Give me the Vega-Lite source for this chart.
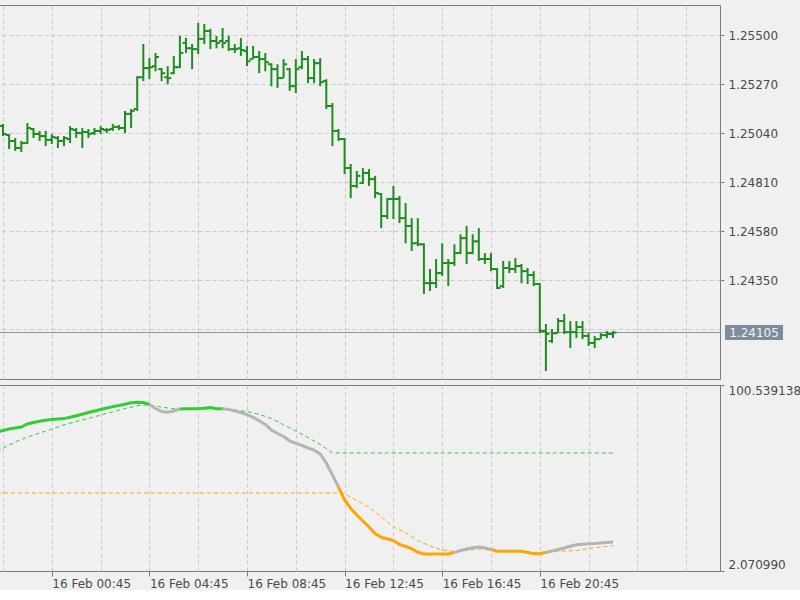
{
"$schema": "https://vega.github.io/schema/vega-lite/v6.json",
"background": "#f0f0f0",
"padding": {"left": -3, "top": 4, "right": 0, "bottom": 0},
"spacing": 3,
"config": {
  "view": {"stroke": "#7a7a7a", "strokeWidth": 1, "fill": "#f0f0f0"},
  "axis": {"labelFont": "DejaVu Sans", "labelFontSize": 12, "labelColor": "#4a4a4a", "gridColor": "#c8c8c8", "gridDash": [4, 3], "gridWidth": 1, "tickColor": "#7a7a7a", "domainColor": "#7a7a7a", "title": null}
},
"datasets": {
  "bars": [
    {"t":"2017-02-15T22:45","o":1.25074,"h":1.25084,"l":1.25027,"c":1.25037},
    {"t":"2017-02-15T23:00","o":1.25032,"h":1.25037,"l":1.24966,"c":1.25004},
    {"t":"2017-02-15T23:15","o":1.25004,"h":1.25018,"l":1.24957,"c":1.24971},
    {"t":"2017-02-15T23:30","o":1.24971,"h":1.25004,"l":1.24952,"c":1.24994},
    {"t":"2017-02-15T23:45","o":1.24994,"h":1.25088,"l":1.24990,"c":1.25065},
    {"t":"2017-02-16T00:00","o":1.25060,"h":1.25065,"l":1.25018,"c":1.25037},
    {"t":"2017-02-16T00:15","o":1.25037,"h":1.25051,"l":1.25004,"c":1.25027},
    {"t":"2017-02-16T00:30","o":1.25027,"h":1.25051,"l":1.24980,"c":1.25009},
    {"t":"2017-02-16T00:45","o":1.25009,"h":1.25037,"l":1.24990,"c":1.25023},
    {"t":"2017-02-16T01:00","o":1.25018,"h":1.25027,"l":1.24971,"c":1.25004},
    {"t":"2017-02-16T01:15","o":1.25004,"h":1.25027,"l":1.24980,"c":1.25018},
    {"t":"2017-02-16T01:30","o":1.25013,"h":1.25074,"l":1.24994,"c":1.25060},
    {"t":"2017-02-16T01:45","o":1.25055,"h":1.25065,"l":1.25018,"c":1.25041},
    {"t":"2017-02-16T02:00","o":1.25041,"h":1.25065,"l":1.24971,"c":1.25046},
    {"t":"2017-02-16T02:15","o":1.25046,"h":1.25060,"l":1.25018,"c":1.25037},
    {"t":"2017-02-16T02:30","o":1.25041,"h":1.25065,"l":1.25032,"c":1.25051},
    {"t":"2017-02-16T02:45","o":1.25051,"h":1.25074,"l":1.25037,"c":1.25060},
    {"t":"2017-02-16T03:00","o":1.25055,"h":1.25065,"l":1.25041,"c":1.25055},
    {"t":"2017-02-16T03:15","o":1.25060,"h":1.25084,"l":1.25051,"c":1.25070},
    {"t":"2017-02-16T03:30","o":1.25070,"h":1.25079,"l":1.25055,"c":1.25065},
    {"t":"2017-02-16T03:45","o":1.25065,"h":1.25145,"l":1.25041,"c":1.25131},
    {"t":"2017-02-16T04:00","o":1.25131,"h":1.25154,"l":1.25065,"c":1.25145},
    {"t":"2017-02-16T04:15","o":1.25154,"h":1.25308,"l":1.25145,"c":1.25303},
    {"t":"2017-02-16T04:30","o":1.25303,"h":1.25459,"l":1.25285,"c":1.25346},
    {"t":"2017-02-16T04:45","o":1.25346,"h":1.25393,"l":1.25294,"c":1.25350},
    {"t":"2017-02-16T05:00","o":1.25355,"h":1.25417,"l":1.25331,"c":1.25398},
    {"t":"2017-02-16T05:15","o":1.25341,"h":1.25346,"l":1.25285,"c":1.25322},
    {"t":"2017-02-16T05:30","o":1.25303,"h":1.25355,"l":1.25270,"c":1.25299},
    {"t":"2017-02-16T05:45","o":1.25322,"h":1.25403,"l":1.25317,"c":1.25350},
    {"t":"2017-02-16T06:00","o":1.25350,"h":1.25497,"l":1.25346,"c":1.25417},
    {"t":"2017-02-16T06:15","o":1.25464,"h":1.25487,"l":1.25417,"c":1.25439},
    {"t":"2017-02-16T06:30","o":1.25439,"h":1.25459,"l":1.25341,"c":1.25435},
    {"t":"2017-02-16T06:45","o":1.25435,"h":1.25558,"l":1.25412,"c":1.25483},
    {"t":"2017-02-16T07:00","o":1.25483,"h":1.25553,"l":1.25459,"c":1.25520},
    {"t":"2017-02-16T07:15","o":1.25520,"h":1.25530,"l":1.25435,"c":1.25473},
    {"t":"2017-02-16T07:30","o":1.25473,"h":1.25497,"l":1.25439,"c":1.25464},
    {"t":"2017-02-16T07:45","o":1.25473,"h":1.25534,"l":1.25439,"c":1.25464},
    {"t":"2017-02-16T08:00","o":1.25473,"h":1.25497,"l":1.25426,"c":1.25435},
    {"t":"2017-02-16T08:15","o":1.25435,"h":1.25459,"l":1.25417,"c":1.25435},
    {"t":"2017-02-16T08:30","o":1.25439,"h":1.25487,"l":1.25403,"c":1.25431},
    {"t":"2017-02-16T08:45","o":1.25426,"h":1.25450,"l":1.25355,"c":1.25378},
    {"t":"2017-02-16T09:00","o":1.25388,"h":1.25450,"l":1.25388,"c":1.25398},
    {"t":"2017-02-16T09:15","o":1.25398,"h":1.25426,"l":1.25322,"c":1.25388},
    {"t":"2017-02-16T09:30","o":1.25388,"h":1.25417,"l":1.25331,"c":1.25374},
    {"t":"2017-02-16T09:45","o":1.25364,"h":1.25369,"l":1.25261,"c":1.25341},
    {"t":"2017-02-16T10:00","o":1.25341,"h":1.25364,"l":1.25253,"c":1.25299},
    {"t":"2017-02-16T10:15","o":1.25299,"h":1.25388,"l":1.25299,"c":1.25364},
    {"t":"2017-02-16T10:30","o":1.25341,"h":1.25346,"l":1.25239,"c":1.25261},
    {"t":"2017-02-16T10:45","o":1.25261,"h":1.25388,"l":1.25229,"c":1.25341},
    {"t":"2017-02-16T11:00","o":1.25350,"h":1.25426,"l":1.25341,"c":1.25388},
    {"t":"2017-02-16T11:15","o":1.25388,"h":1.25403,"l":1.25275,"c":1.25299},
    {"t":"2017-02-16T11:30","o":1.25299,"h":1.25388,"l":1.25275,"c":1.25369},
    {"t":"2017-02-16T11:45","o":1.25369,"h":1.25393,"l":1.25261,"c":1.25280},
    {"t":"2017-02-16T12:00","o":1.25285,"h":1.25294,"l":1.25154,"c":1.25168},
    {"t":"2017-02-16T12:15","o":1.25168,"h":1.25182,"l":1.24980,"c":1.25051},
    {"t":"2017-02-16T12:30","o":1.25051,"h":1.25060,"l":1.25004,"c":1.25013},
    {"t":"2017-02-16T12:45","o":1.25013,"h":1.25018,"l":1.24849,"c":1.24877},
    {"t":"2017-02-16T13:00","o":1.24877,"h":1.24896,"l":1.24736,"c":1.24793},
    {"t":"2017-02-16T13:15","o":1.24793,"h":1.24863,"l":1.24783,"c":1.24840},
    {"t":"2017-02-16T13:30","o":1.24807,"h":1.24877,"l":1.24802,"c":1.24854},
    {"t":"2017-02-16T13:45","o":1.24854,"h":1.24872,"l":1.24793,"c":1.24825},
    {"t":"2017-02-16T14:00","o":1.24825,"h":1.24840,"l":1.24736,"c":1.24760},
    {"t":"2017-02-16T14:15","o":1.24755,"h":1.24760,"l":1.24595,"c":1.24652},
    {"t":"2017-02-16T14:30","o":1.24652,"h":1.24736,"l":1.24638,"c":1.24732},
    {"t":"2017-02-16T14:45","o":1.24732,"h":1.24793,"l":1.24638,"c":1.24732},
    {"t":"2017-02-16T15:00","o":1.24732,"h":1.24746,"l":1.24619,"c":1.24642},
    {"t":"2017-02-16T15:15","o":1.24642,"h":1.24713,"l":1.24524,"c":1.24605},
    {"t":"2017-02-16T15:30","o":1.24605,"h":1.24642,"l":1.24488,"c":1.24524},
    {"t":"2017-02-16T15:45","o":1.24524,"h":1.24642,"l":1.24510,"c":1.24519},
    {"t":"2017-02-16T16:00","o":1.24519,"h":1.24524,"l":1.24286,"c":1.24337},
    {"t":"2017-02-16T16:15","o":1.24337,"h":1.24403,"l":1.24300,"c":1.24337},
    {"t":"2017-02-16T16:30","o":1.24337,"h":1.24450,"l":1.24314,"c":1.24384},
    {"t":"2017-02-16T16:45","o":1.24384,"h":1.24524,"l":1.24370,"c":1.24431},
    {"t":"2017-02-16T17:00","o":1.24431,"h":1.24450,"l":1.24323,"c":1.24431},
    {"t":"2017-02-16T17:15","o":1.24431,"h":1.24519,"l":1.24417,"c":1.24478},
    {"t":"2017-02-16T17:30","o":1.24478,"h":1.24566,"l":1.24473,"c":1.24548},
    {"t":"2017-02-16T17:45","o":1.24548,"h":1.24605,"l":1.24427,"c":1.24478},
    {"t":"2017-02-16T18:00","o":1.24478,"h":1.24566,"l":1.24473,"c":1.24533},
    {"t":"2017-02-16T18:15","o":1.24533,"h":1.24595,"l":1.24441,"c":1.24450},
    {"t":"2017-02-16T18:30","o":1.24450,"h":1.24478,"l":1.24427,"c":1.24450},
    {"t":"2017-02-16T18:45","o":1.24450,"h":1.24478,"l":1.24393,"c":1.24403},
    {"t":"2017-02-16T19:00","o":1.24403,"h":1.24408,"l":1.24309,"c":1.24314},
    {"t":"2017-02-16T19:15","o":1.24323,"h":1.24441,"l":1.24314,"c":1.24408},
    {"t":"2017-02-16T19:30","o":1.24408,"h":1.24441,"l":1.24384,"c":1.24403},
    {"t":"2017-02-16T19:45","o":1.24403,"h":1.24455,"l":1.24384,"c":1.24417},
    {"t":"2017-02-16T20:00","o":1.24417,"h":1.24427,"l":1.24337,"c":1.24393},
    {"t":"2017-02-16T20:15","o":1.24393,"h":1.24408,"l":1.24333,"c":1.24375},
    {"t":"2017-02-16T20:30","o":1.24375,"h":1.24393,"l":1.24323,"c":1.24333},
    {"t":"2017-02-16T20:45","o":1.24333,"h":1.24337,"l":1.24102,"c":1.24112},
    {"t":"2017-02-16T21:00","o":1.24112,"h":1.24145,"l":1.23924,"c":1.24098},
    {"t":"2017-02-16T21:15","o":1.24065,"h":1.24121,"l":1.24056,"c":1.24102},
    {"t":"2017-02-16T21:30","o":1.24102,"h":1.24173,"l":1.24102,"c":1.24159},
    {"t":"2017-02-16T21:45","o":1.24159,"h":1.24192,"l":1.24098,"c":1.24107},
    {"t":"2017-02-16T22:00","o":1.24107,"h":1.24159,"l":1.24032,"c":1.24107},
    {"t":"2017-02-16T22:15","o":1.24107,"h":1.24159,"l":1.24079,"c":1.24131},
    {"t":"2017-02-16T22:30","o":1.24131,"h":1.24159,"l":1.24074,"c":1.24089},
    {"t":"2017-02-16T22:45","o":1.24089,"h":1.24102,"l":1.24042,"c":1.24056},
    {"t":"2017-02-16T23:00","o":1.24056,"h":1.24089,"l":1.24032,"c":1.24074},
    {"t":"2017-02-16T23:15","o":1.24074,"h":1.24102,"l":1.24074,"c":1.24093},
    {"t":"2017-02-16T23:30","o":1.24093,"h":1.24112,"l":1.24079,"c":1.24098},
    {"t":"2017-02-16T23:45","o":1.24098,"h":1.24112,"l":1.24079,"c":1.24105}
  ],
  "last": [{"p": 1.24105}],
  "main": [
    {"t":"2017-02-15T22:30","v":75.66,"s":1,"c":"up"},
    {"t":"2017-02-15T22:45","v":76.45,"s":1,"c":"up"},
    {"t":"2017-02-15T23:00","v":77.25,"s":1,"c":"up"},
    {"t":"2017-02-15T23:15","v":77.78,"s":1,"c":"up"},
    {"t":"2017-02-15T23:30","v":78.31,"s":1,"c":"up"},
    {"t":"2017-02-15T23:45","v":79.89,"s":1,"c":"up"},
    {"t":"2017-02-16T00:00","v":80.69,"s":1,"c":"up"},
    {"t":"2017-02-16T00:15","v":81.32,"s":1,"c":"up"},
    {"t":"2017-02-16T00:30","v":81.85,"s":1,"c":"up"},
    {"t":"2017-02-16T00:45","v":82.28,"s":1,"c":"up"},
    {"t":"2017-02-16T01:00","v":82.54,"s":1,"c":"up"},
    {"t":"2017-02-16T01:15","v":82.75,"s":1,"c":"up"},
    {"t":"2017-02-16T01:30","v":83.44,"s":1,"c":"up"},
    {"t":"2017-02-16T01:45","v":84.29,"s":1,"c":"up"},
    {"t":"2017-02-16T02:00","v":85.08,"s":1,"c":"up"},
    {"t":"2017-02-16T02:15","v":85.98,"s":1,"c":"up"},
    {"t":"2017-02-16T02:30","v":86.78,"s":1,"c":"up"},
    {"t":"2017-02-16T02:45","v":87.57,"s":1,"c":"up"},
    {"t":"2017-02-16T03:00","v":88.36,"s":1,"c":"up"},
    {"t":"2017-02-16T03:15","v":89.10,"s":1,"c":"up"},
    {"t":"2017-02-16T03:30","v":89.69,"s":1,"c":"up"},
    {"t":"2017-02-16T03:45","v":90.38,"s":1,"c":"up"},
    {"t":"2017-02-16T04:00","v":91.12,"s":1,"c":"up"},
    {"t":"2017-02-16T04:15","v":91.38,"s":1,"c":"up"},
    {"t":"2017-02-16T04:30","v":91.22,"s":1,"c":"up"},
    {"t":"2017-02-16T04:45","v":90.22,"s":1,"c":"up"},
    {"t":"2017-02-16T04:45","v":90.22,"s":2,"c":"flat"},
    {"t":"2017-02-16T05:00","v":88.10,"s":2,"c":"flat"},
    {"t":"2017-02-16T05:15","v":86.51,"s":2,"c":"flat"},
    {"t":"2017-02-16T05:30","v":86.09,"s":2,"c":"flat"},
    {"t":"2017-02-16T05:45","v":86.78,"s":2,"c":"flat"},
    {"t":"2017-02-16T06:00","v":87.83,"s":2,"c":"flat"},
    {"t":"2017-02-16T06:00","v":87.83,"s":3,"c":"up"},
    {"t":"2017-02-16T06:15","v":87.99,"s":3,"c":"up"},
    {"t":"2017-02-16T06:30","v":87.99,"s":3,"c":"up"},
    {"t":"2017-02-16T06:45","v":87.99,"s":3,"c":"up"},
    {"t":"2017-02-16T07:00","v":88.26,"s":3,"c":"up"},
    {"t":"2017-02-16T07:15","v":88.58,"s":3,"c":"up"},
    {"t":"2017-02-16T07:30","v":87.99,"s":3,"c":"up"},
    {"t":"2017-02-16T07:45","v":87.94,"s":3,"c":"up"},
    {"t":"2017-02-16T07:45","v":87.94,"s":4,"c":"flat"},
    {"t":"2017-02-16T08:00","v":87.62,"s":4,"c":"flat"},
    {"t":"2017-02-16T08:15","v":86.78,"s":4,"c":"flat"},
    {"t":"2017-02-16T08:30","v":85.98,"s":4,"c":"flat"},
    {"t":"2017-02-16T08:45","v":84.82,"s":4,"c":"flat"},
    {"t":"2017-02-16T09:00","v":83.44,"s":4,"c":"flat"},
    {"t":"2017-02-16T09:15","v":81.64,"s":4,"c":"flat"},
    {"t":"2017-02-16T09:30","v":79.63,"s":4,"c":"flat"},
    {"t":"2017-02-16T09:45","v":76.72,"s":4,"c":"flat"},
    {"t":"2017-02-16T10:00","v":74.86,"s":4,"c":"flat"},
    {"t":"2017-02-16T10:15","v":73.28,"s":4,"c":"flat"},
    {"t":"2017-02-16T10:30","v":70.89,"s":4,"c":"flat"},
    {"t":"2017-02-16T10:45","v":69.68,"s":4,"c":"flat"},
    {"t":"2017-02-16T11:00","v":68.62,"s":4,"c":"flat"},
    {"t":"2017-02-16T11:15","v":67.19,"s":4,"c":"flat"},
    {"t":"2017-02-16T11:30","v":66.13,"s":4,"c":"flat"},
    {"t":"2017-02-16T11:45","v":64.01,"s":4,"c":"flat"},
    {"t":"2017-02-16T12:00","v":59.25,"s":4,"c":"flat"},
    {"t":"2017-02-16T12:15","v":52.89,"s":4,"c":"flat"},
    {"t":"2017-02-16T12:30","v":46.54,"s":4,"c":"flat"},
    {"t":"2017-02-16T12:30","v":46.54,"s":5,"c":"down"},
    {"t":"2017-02-16T12:45","v":39.66,"s":5,"c":"down"},
    {"t":"2017-02-16T13:00","v":35.16,"s":5,"c":"down"},
    {"t":"2017-02-16T13:15","v":31.72,"s":5,"c":"down"},
    {"t":"2017-02-16T13:30","v":28.54,"s":5,"c":"down"},
    {"t":"2017-02-16T13:45","v":25.37,"s":5,"c":"down"},
    {"t":"2017-02-16T14:00","v":21.92,"s":5,"c":"down"},
    {"t":"2017-02-16T14:15","v":19.91,"s":5,"c":"down"},
    {"t":"2017-02-16T14:30","v":19.12,"s":5,"c":"down"},
    {"t":"2017-02-16T14:45","v":18.22,"s":5,"c":"down"},
    {"t":"2017-02-16T15:00","v":16.10,"s":5,"c":"down"},
    {"t":"2017-02-16T15:15","v":15.04,"s":5,"c":"down"},
    {"t":"2017-02-16T15:30","v":13.88,"s":5,"c":"down"},
    {"t":"2017-02-16T15:45","v":11.97,"s":5,"c":"down"},
    {"t":"2017-02-16T16:00","v":11.07,"s":5,"c":"down"},
    {"t":"2017-02-16T16:15","v":11.07,"s":5,"c":"down"},
    {"t":"2017-02-16T16:30","v":11.07,"s":5,"c":"down"},
    {"t":"2017-02-16T16:45","v":11.07,"s":5,"c":"down"},
    {"t":"2017-02-16T17:00","v":11.07,"s":5,"c":"down"},
    {"t":"2017-02-16T17:15","v":11.86,"s":5,"c":"down"},
    {"t":"2017-02-16T17:15","v":11.86,"s":6,"c":"flat"},
    {"t":"2017-02-16T17:30","v":12.93,"s":6,"c":"flat"},
    {"t":"2017-02-16T17:45","v":13.72,"s":6,"c":"flat"},
    {"t":"2017-02-16T18:00","v":14.35,"s":6,"c":"flat"},
    {"t":"2017-02-16T18:15","v":14.78,"s":6,"c":"flat"},
    {"t":"2017-02-16T18:30","v":14.25,"s":6,"c":"flat"},
    {"t":"2017-02-16T18:45","v":13.45,"s":6,"c":"flat"},
    {"t":"2017-02-16T18:45","v":13.45,"s":7,"c":"down"},
    {"t":"2017-02-16T19:00","v":12.50,"s":7,"c":"down"},
    {"t":"2017-02-16T19:15","v":12.50,"s":7,"c":"down"},
    {"t":"2017-02-16T19:30","v":12.50,"s":7,"c":"down"},
    {"t":"2017-02-16T19:45","v":12.50,"s":7,"c":"down"},
    {"t":"2017-02-16T20:00","v":12.50,"s":7,"c":"down"},
    {"t":"2017-02-16T20:15","v":11.86,"s":7,"c":"down"},
    {"t":"2017-02-16T20:30","v":11.23,"s":7,"c":"down"},
    {"t":"2017-02-16T20:45","v":11.23,"s":7,"c":"down"},
    {"t":"2017-02-16T21:00","v":11.86,"s":7,"c":"down"},
    {"t":"2017-02-16T21:00","v":11.86,"s":8,"c":"flat"},
    {"t":"2017-02-16T21:15","v":12.66,"s":8,"c":"flat"},
    {"t":"2017-02-16T21:30","v":13.45,"s":8,"c":"flat"},
    {"t":"2017-02-16T21:45","v":14.25,"s":8,"c":"flat"},
    {"t":"2017-02-16T22:00","v":15.15,"s":8,"c":"flat"},
    {"t":"2017-02-16T22:15","v":15.94,"s":8,"c":"flat"},
    {"t":"2017-02-16T22:30","v":16.26,"s":8,"c":"flat"},
    {"t":"2017-02-16T22:45","v":16.52,"s":8,"c":"flat"},
    {"t":"2017-02-16T23:00","v":16.63,"s":8,"c":"flat"},
    {"t":"2017-02-16T23:15","v":16.89,"s":8,"c":"flat"},
    {"t":"2017-02-16T23:30","v":17.16,"s":8,"c":"flat"},
    {"t":"2017-02-16T23:45","v":17.42,"s":8,"c":"flat"}
  ],
  "hi": [
    {"t":"2017-02-15T22:30","v":65.60},
    {"t":"2017-02-15T22:45","v":67.08},
    {"t":"2017-02-15T23:15","v":70.36},
    {"t":"2017-02-15T23:45","v":73.01},
    {"t":"2017-02-16T00:15","v":75.13},
    {"t":"2017-02-16T00:45","v":77.14},
    {"t":"2017-02-16T01:15","v":79.47},
    {"t":"2017-02-16T01:45","v":81.22},
    {"t":"2017-02-16T02:15","v":82.81},
    {"t":"2017-02-16T02:45","v":84.61},
    {"t":"2017-02-16T03:15","v":86.35},
    {"t":"2017-02-16T03:45","v":88.10},
    {"t":"2017-02-16T04:15","v":89.53},
    {"t":"2017-02-16T04:30","v":89.95},
    {"t":"2017-02-16T04:45","v":90.06},
    {"t":"2017-02-16T05:15","v":88.79},
    {"t":"2017-02-16T05:45","v":87.99},
    {"t":"2017-02-16T07:45","v":87.94},
    {"t":"2017-02-16T08:15","v":87.30},
    {"t":"2017-02-16T08:45","v":86.51},
    {"t":"2017-02-16T09:15","v":85.03},
    {"t":"2017-02-16T09:45","v":82.81},
    {"t":"2017-02-16T10:15","v":79.47},
    {"t":"2017-02-16T10:45","v":76.19},
    {"t":"2017-02-16T11:15","v":72.75},
    {"t":"2017-02-16T11:45","v":69.04},
    {"t":"2017-02-16T12:15","v":64.54},
    {"t":"2017-02-16T23:45","v":64.54}
  ],
  "lo": [
    {"t":"2017-02-15T22:30","v":43.36},
    {"t":"2017-02-16T12:30","v":43.36},
    {"t":"2017-02-16T12:45","v":42.84},
    {"t":"2017-02-16T13:15","v":39.39},
    {"t":"2017-02-16T13:45","v":35.95},
    {"t":"2017-02-16T14:15","v":30.66},
    {"t":"2017-02-16T14:45","v":25.37},
    {"t":"2017-02-16T15:15","v":22.19},
    {"t":"2017-02-16T15:45","v":18.22},
    {"t":"2017-02-16T16:15","v":15.31},
    {"t":"2017-02-16T16:45","v":13.19},
    {"t":"2017-02-16T17:15","v":12.39},
    {"t":"2017-02-16T17:45","v":12.92},
    {"t":"2017-02-16T18:15","v":13.72},
    {"t":"2017-02-16T18:45","v":13.19},
    {"t":"2017-02-16T19:45","v":12.50},
    {"t":"2017-02-16T20:45","v":11.86},
    {"t":"2017-02-16T21:15","v":12.39},
    {"t":"2017-02-16T22:15","v":12.92},
    {"t":"2017-02-16T22:45","v":13.98},
    {"t":"2017-02-16T23:45","v":15.57}
  ]
},
"vconcat": [
  {
    "width": 722,
    "height": 374,
    "layer": [
      {
        "data": {"name": "last"},
        "mark": {"type": "rule", "color": "#8796a6", "strokeWidth": 1},
        "encoding": {"y": {"field": "p", "type": "quantitative"}}
      },
      {
        "data": {"name": "bars"},
        "mark": {"type": "rule", "color": "#1e8c1e", "strokeWidth": 2, "clip": true},
        "encoding": {
          "x": {"field": "t", "type": "temporal",
            "scale": {"domain": [{"year":2017,"month":2,"date":15,"hours":22,"minutes":32,"seconds":42},{"year":2017,"month":2,"date":17,"hours":4,"minutes":8,"seconds":6}]},
            "axis": {"values": [
              {"year":2017,"month":2,"date":15,"hours":22,"minutes":45},
              {"year":2017,"month":2,"date":16,"hours":0,"minutes":45},
              {"year":2017,"month":2,"date":16,"hours":2,"minutes":45},
              {"year":2017,"month":2,"date":16,"hours":4,"minutes":45},
              {"year":2017,"month":2,"date":16,"hours":6,"minutes":45},
              {"year":2017,"month":2,"date":16,"hours":8,"minutes":45},
              {"year":2017,"month":2,"date":16,"hours":10,"minutes":45},
              {"year":2017,"month":2,"date":16,"hours":12,"minutes":45},
              {"year":2017,"month":2,"date":16,"hours":14,"minutes":45},
              {"year":2017,"month":2,"date":16,"hours":16,"minutes":45},
              {"year":2017,"month":2,"date":16,"hours":18,"minutes":45},
              {"year":2017,"month":2,"date":16,"hours":20,"minutes":45},
              {"year":2017,"month":2,"date":16,"hours":22,"minutes":45},
              {"year":2017,"month":2,"date":17,"hours":0,"minutes":45},
              {"year":2017,"month":2,"date":17,"hours":2,"minutes":45}
            ], "labels": false, "ticks": false, "domain": false, "grid": true}},
          "y": {"field": "h", "type": "quantitative",
            "scale": {"domain": [1.23887, 1.25642], "zero": false, "nice": false},
            "axis": {"orient": "right", "values": [1.2412, 1.2435, 1.2458, 1.2481, 1.2504, 1.2527, 1.255], "format": ".5f",
              "labelExpr": "datum.value < 1.242 ? '' : datum.label", "tickSize": 4, "labelPadding": 4, "domain": false, "grid": true,
              "tickOpacity": {"condition": {"test": "datum.value < 1.242", "value": 0}, "value": 1}}},
          "y2": {"field": "l"}
        }
      },
      {
        "data": {"name": "bars"},
        "mark": {"type": "tick", "orient": "horizontal", "size": 3, "thickness": 2, "xOffset": -2, "color": "#1e8c1e", "opacity": 1, "clip": true},
        "encoding": {"x": {"field": "t", "type": "temporal"}, "y": {"field": "o", "type": "quantitative"}}
      },
      {
        "data": {"name": "bars"},
        "mark": {"type": "tick", "orient": "horizontal", "size": 3, "thickness": 2, "xOffset": 2, "color": "#1e8c1e", "opacity": 1, "clip": true},
        "encoding": {"x": {"field": "t", "type": "temporal"}, "y": {"field": "c", "type": "quantitative"}}
      },
      {
        "data": {"name": "last"},
        "mark": {"type": "point", "shape": "M-1,-0.26H1V0.26H-1Z", "size": 3364, "filled": true, "color": "#7d8c9c", "opacity": 1, "xOffset": 34},
        "encoding": {"x": {"value": "width"}, "y": {"field": "p", "type": "quantitative"}}
      },
      {
        "data": {"name": "last"},
        "mark": {"type": "text", "font": "DejaVu Sans", "fontSize": 12, "color": "#f2f2f2", "xOffset": 34, "align": "center", "baseline": "middle"},
        "encoding": {"x": {"value": "width"}, "y": {"field": "p", "type": "quantitative"}, "text": {"field": "p", "type": "quantitative", "format": ".5f"}}
      }
    ]
  },
  {
    "width": 722,
    "height": 186,
    "layer": [
      {
        "data": {"name": "hi"},
        "mark": {"type": "line", "color": "#32cd32", "strokeWidth": 1, "strokeDash": [4, 3], "clip": true},
        "encoding": {
          "x": {"field": "t", "type": "temporal",
            "scale": {"domain": [{"year":2017,"month":2,"date":15,"hours":22,"minutes":32,"seconds":42},{"year":2017,"month":2,"date":17,"hours":4,"minutes":8,"seconds":6}]},
            "axis": {"values": [
              {"year":2017,"month":2,"date":15,"hours":22,"minutes":45},
              {"year":2017,"month":2,"date":16,"hours":0,"minutes":45},
              {"year":2017,"month":2,"date":16,"hours":2,"minutes":45},
              {"year":2017,"month":2,"date":16,"hours":4,"minutes":45},
              {"year":2017,"month":2,"date":16,"hours":6,"minutes":45},
              {"year":2017,"month":2,"date":16,"hours":8,"minutes":45},
              {"year":2017,"month":2,"date":16,"hours":10,"minutes":45},
              {"year":2017,"month":2,"date":16,"hours":12,"minutes":45},
              {"year":2017,"month":2,"date":16,"hours":14,"minutes":45},
              {"year":2017,"month":2,"date":16,"hours":16,"minutes":45},
              {"year":2017,"month":2,"date":16,"hours":18,"minutes":45},
              {"year":2017,"month":2,"date":16,"hours":20,"minutes":45},
              {"year":2017,"month":2,"date":16,"hours":22,"minutes":45},
              {"year":2017,"month":2,"date":17,"hours":0,"minutes":45},
              {"year":2017,"month":2,"date":17,"hours":2,"minutes":45}
            ],
            "labelExpr": "hours(datum.value) % 4 == 0 && datum.value < datetime(2017,1,17) ? timeFormat(datum.value, '%d %b %H:%M') : ''",
            "labelAlign": "left", "labelOverlap": false, "labelBound": false, "labelFlush": false, "labelPadding": 2, "tickSize": 5, "domain": false, "grid": true,
            "tickOpacity": {"condition": {"test": "hours(datum.value) % 4 == 0 && datum.value < datetime(2017,1,17)", "value": 1}, "value": 0}}},
          "y": {"field": "v", "type": "quantitative",
            "scale": {"domain": [2.07099, 100.539138], "zero": false, "nice": false},
            "axis": {"orient": "right", "values": [2.07099, 100.539138], "format": ".6f", "labelFlush": true, "grid": false, "tickSize": 4, "labelPadding": 4, "domain": false}}
        }
      },
      {
        "data": {"name": "lo"},
        "mark": {"type": "line", "color": "#ffa500", "strokeWidth": 1, "strokeDash": [4, 3], "clip": true},
        "encoding": {"x": {"field": "t", "type": "temporal"}, "y": {"field": "v", "type": "quantitative"}}
      },
      {
        "data": {"name": "main"},
        "mark": {"type": "line", "strokeWidth": 3, "clip": true},
        "encoding": {
          "x": {"field": "t", "type": "temporal"},
          "y": {"field": "v", "type": "quantitative"},
          "color": {"field": "c", "type": "nominal", "scale": {"domain": ["up", "flat", "down"], "range": ["#32cd32", "#b4b4b4", "#ffa500"]}, "legend": null},
          "detail": {"field": "s", "type": "nominal"}
        }
      }
    ]
  }
]
}
